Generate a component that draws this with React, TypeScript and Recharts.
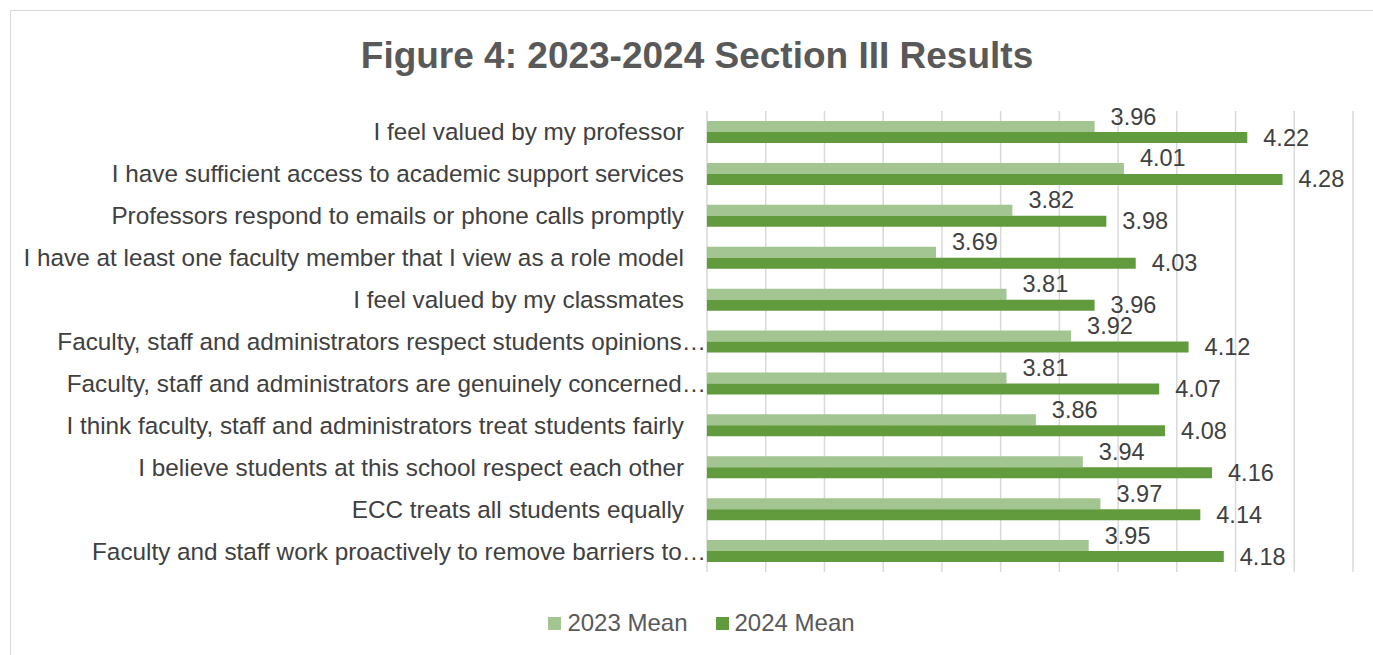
import { Bar, BarChart, CartesianGrid, LabelList, Legend, XAxis, YAxis } from "recharts";

const categories = [
  "I feel valued by my professor",
  "I have sufficient access to academic support services",
  "Professors respond to emails or phone calls promptly",
  "I have at least one faculty member that I view as a role model",
  "I feel valued by my classmates",
  "Faculty, staff and administrators respect students opinions…",
  "Faculty, staff and administrators are genuinely concerned…",
  "I think faculty, staff and administrators treat students fairly",
  "I believe students at this school respect each other",
  "ECC treats all students equally",
  "Faculty and staff work proactively to remove barriers to…",
];
const mean2023 = [3.96, 4.01, 3.82, 3.69, 3.81, 3.92, 3.81, 3.86, 3.94, 3.97, 3.95];
const mean2024 = [4.22, 4.28, 3.98, 4.03, 3.96, 4.12, 4.07, 4.08, 4.16, 4.14, 4.18];
const xTicks = [3.3, 3.4, 3.5, 3.6, 3.7, 3.8, 3.9, 4.0, 4.1, 4.2, 4.3, 4.4];

const LIGHT = "#a3c592";
const DARK = "#629a3e";
const TEXT = "#404040";
const FONT = "'Liberation Sans', Arial, sans-serif";

const rows = categories.map((name, i) => ({
  name,
  "2023 Mean": mean2023[i],
  "2024 Mean": mean2024[i],
}));

// labels sit just past the bar end; the light ones are nudged up like Excel does
const valueLabel = (dy: number) => (props: any) => {
  const { x, y, width, height, value } = props;
  return (
    <text
      x={Number(x) + Number(width) + 16}
      y={Number(y) + Number(height) / 2 + dy}
      dominantBaseline="central"
      fill={TEXT}
      fontSize={23.5}
      fontFamily={FONT}
    >
      {Number(value).toFixed(2)}
    </text>
  );
};

const CategoryTick = (props: any) => {
  const { x, y, payload } = props;
  const cut = String(payload.value).endsWith("…");
  return (
    <text
      x={Number(x) + (cut ? 22 : 0)}
      y={y}
      textAnchor="end"
      dominantBaseline="central"
      fill={TEXT}
      fontSize={24.3}
      fontFamily={FONT}
    >
      {payload.value}
    </text>
  );
};

const LegendBox = () => (
  <div
    style={{
      height: 30,
      display: "flex",
      justifyContent: "center",
      alignItems: "center",
      gap: 28,
      fontSize: 24,
      color: "#595959",
      fontFamily: FONT,
    }}
  >
    {[
      ["2023 Mean", LIGHT],
      ["2024 Mean", DARK],
    ].map(([label, color]) => (
      <span key={label} style={{ display: "flex", alignItems: "center", gap: 6 }}>
        <span style={{ width: 13, height: 13, background: color, display: "inline-block" }} />
        {label}
      </span>
    ))}
  </div>
);

export default function App() {
  return (
    <div style={{ position: "fixed", inset: 0, overflow: "hidden", background: "#fff", fontFamily: FONT }}>
      <div
        style={{
          position: "absolute",
          left: 10,
          top: 10,
          width: 1400,
          height: 700,
          border: "1.5px solid #d9d9d9",
        }}
      />
      <div
        style={{
          position: "absolute",
          left: 0,
          width: 1394,
          top: 35,
          textAlign: "center",
          fontSize: 37,
          fontWeight: "bold",
          color: "#595959",
        }}
      >
        Figure 4: 2023-2024 Section III Results
      </div>
      <div style={{ position: "absolute", left: 0, top: 0 }}>
        <BarChart
          width={1373}
          height={655}
          data={rows}
          layout="vertical"
          barSize={11}
          barGap={0}
          margin={{ top: 111, right: 20, bottom: 53, left: 10 }}
        >
          <CartesianGrid horizontal={false} stroke="#d9d9d9" strokeWidth={1.5} />
          <XAxis
            type="number"
            domain={[3.3, 4.4]}
            ticks={xTicks}
            tick={() => <g />}
            axisLine={false}
            tickLine={false}
            height={0}
          />
          <YAxis
            type="category"
            dataKey="name"
            width={697}
            axisLine={false}
            tickLine={false}
            tickMargin={17}
            interval={0}
            tick={<CategoryTick />}
          />
          <Legend
            verticalAlign="bottom"
            content={<LegendBox />}
            wrapperStyle={{ bottom: 17, left: 30 }}
          />
          <Bar dataKey="2023 Mean" fill={LIGHT} isAnimationActive={false}>
            <LabelList dataKey="2023 Mean" content={valueLabel(-10)} />
          </Bar>
          <Bar dataKey="2024 Mean" fill={DARK} isAnimationActive={false}>
            <LabelList dataKey="2024 Mean" content={valueLabel(0)} />
          </Bar>
        </BarChart>
      </div>
    </div>
  );
}
